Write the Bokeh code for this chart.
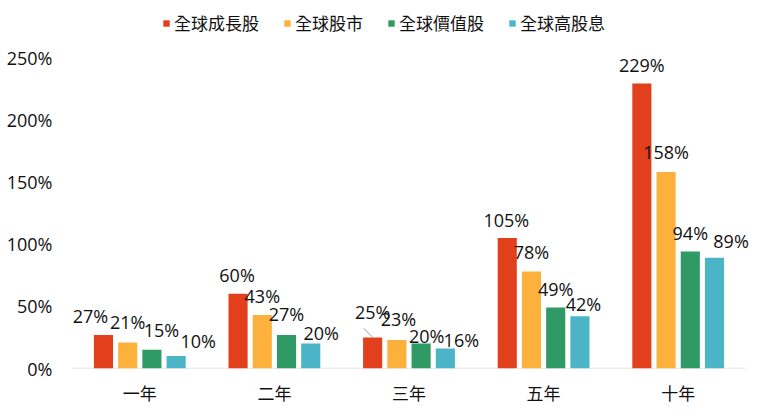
from bokeh.plotting import figure
from bokeh.models import ColumnDataSource, FixedTicker, Range1d, Legend, LegendItem
from bokeh.core.properties import value
from bokeh.embed import file_html
from bokeh.resources import INLINE

categories = ["一年", "二年", "三年", "五年", "十年"]
series_names = ["全球成長股", "全球股市", "全球價值股", "全球高股息"]
growth = [27, 60, 25, 105, 229]
world = [21, 43, 23, 78, 158]
value_s = [15, 27, 20, 49, 94]
dividend = [10, 20, 16, 42, 89]
y_ticks = [0, 50, 100, 150, 200, 250]

colors = ["#E2401C", "#FBB13C", "#2F9A65", "#4BB5C7"]
series = [growth, world, value_s, dividend]
offsets = [-0.27, -0.09, 0.09, 0.27]
bar_w = 0.142
# label screen offsets (px): dx right, dy above bar top
label_dx = [[-13, -1, 0, -1, 0], [0, 0, 1.5, 0, 0], [9.5, 0, 5.5, 0, 0], [22, 10.5, 16, 3.5, 16.5]]
label_dy = [[19, 19, 25, 18, 19], [20, 19.5, 21, 19, 19.5], [20, 21, 8, 19, 19], [15.5, 11, 9, 12, 17]]

FONT = "Noto Sans CJK TC"
LFONT = "Open Sans"

TOP, BASE, Y250 = 10, 368, 57
LEFT, RIGHT_AXIS = 72, 745
y_end = 250 * (BASE - TOP) / (BASE - Y250)
ncat = len(categories)
x_end = ncat * (760 - LEFT) / (RIGHT_AXIS - LEFT)

p = figure(width=760, height=418, output_backend="svg", toolbar_location=None,
           x_range=Range1d(0, x_end), y_range=Range1d(0, y_end),
           min_border_left=LEFT, min_border_right=0, min_border_top=TOP,
           min_border_bottom=418 - BASE)
p.outline_line_color = None
p.grid.grid_line_color = None
p.background_fill_color = "white"
p.border_fill_color = "white"

# baseline across the category span
p.segment(x0=[0], y0=[0], x1=[ncat], y1=[0], line_color="#d9d9d9", line_width=1.5)

xc = [i + 0.5 for i in range(ncat)]
legend_items = []
for k, (vals, col) in enumerate(zip(series, colors)):
    xs = [c + offsets[k] for c in xc]
    src = ColumnDataSource(dict(x=xs, top=vals,
                                lab=[f"{v}%" for v in vals],
                                dx=label_dx[k], dy=[-d for d in label_dy[k]]))
    r = p.vbar(x="x", top="top", width=bar_w, bottom=0, source=src,
               fill_color=col, line_color=None)
    legend_items.append(LegendItem(label=series_names[k], renderers=[r]))
    p.text(x="x", y="top", text="lab", source=src, x_offset="dx", y_offset="dy",
           text_align="center", text_baseline="middle", text_font=value(LFONT),
           text_font_size="18px", text_color="#111111")

# leader line for 三年 growth label
ci = categories.index("三年")
bx = xc[ci] + offsets[0]
p.segment(x0=[bx - 0.067], y0=[growth[ci] + 7.2], x1=[bx], y1=[growth[ci]],
          line_color="#bfbfbf", line_width=1.2)

p.yaxis.ticker = FixedTicker(ticks=y_ticks)
p.yaxis.major_label_overrides = {t: f"{t}%" for t in y_ticks}
p.yaxis.axis_line_color = None
p.yaxis.major_tick_line_color = None
p.yaxis.minor_tick_line_color = None
p.yaxis.major_label_text_font = LFONT
p.yaxis.major_label_text_font_size = "18px"
p.yaxis.major_label_text_color = "#111111"
p.yaxis.major_label_standoff = 14

p.xaxis.ticker = FixedTicker(ticks=xc)
p.xaxis.major_label_overrides = {t: c for t, c in zip(xc, categories)}
p.xaxis.axis_line_color = None
p.xaxis.major_tick_line_color = None
p.xaxis.minor_tick_line_color = None
p.xaxis.major_label_text_font = FONT
p.xaxis.major_label_text_font_size = "17px"
p.xaxis.major_label_text_color = "#111111"
p.xaxis.major_label_standoff = 5

legend = Legend(items=legend_items, orientation="horizontal", location=(90, 333),
                label_text_font=FONT, label_text_font_size="17px", label_text_color="#111111",
                glyph_width=8, glyph_height=8, spacing=24, label_standoff=4,
                border_line_color=None, background_fill_alpha=0, padding=2, margin=0)
p.add_layout(legend, "center")

open("out.html", "w").write(file_html(p, INLINE))
